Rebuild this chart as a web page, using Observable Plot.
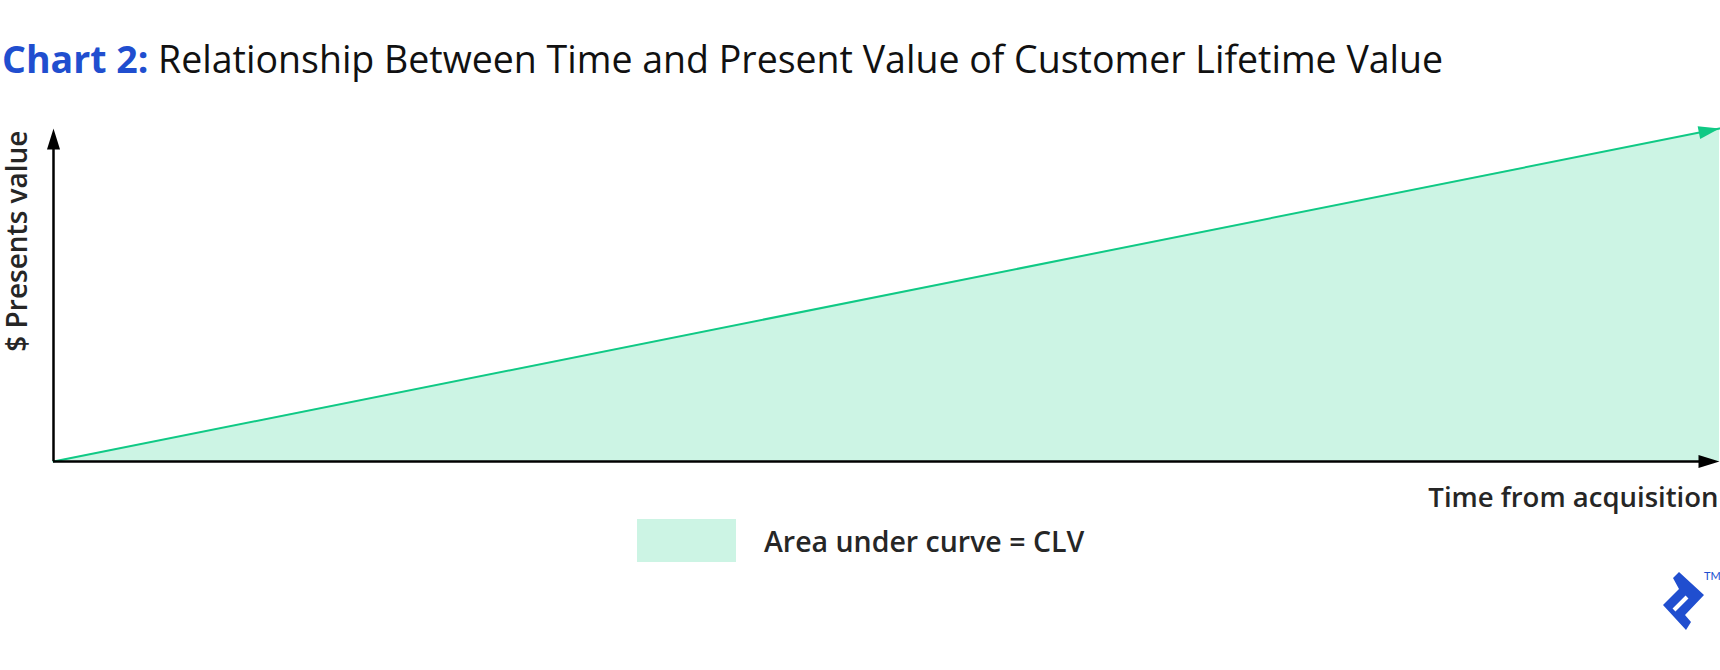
<!DOCTYPE html>
<html>
<head>
<meta charset="utf-8">
<script src="https://cdn.jsdelivr.net/npm/d3@7"></script>
<script src="https://cdn.jsdelivr.net/npm/@observablehq/plot@0.6"></script>
<style>
  html, body { margin: 0; padding: 0; background: #fff; }
  body { width: 1720px; height: 670px; position: relative; overflow: hidden; font-family: "Open Sans", Lato, sans-serif; }
  #title { position: absolute; left: 2px; top: 41px; font-size: 37.5px; line-height: 36px; color: #111; white-space: nowrap; }
  #title .lead { color: #204ecf; font-weight: 700; }
  #chart { position: absolute; left: 0; top: 100px; }
  #legend-swatch { position: absolute; left: 637px; top: 519px; width: 99px; height: 43px; }
  #legend-label { position: absolute; left: 764px; top: 525px; font-size: 28.5px; line-height: 32px; font-weight: 600; color: #262626; white-space: nowrap; }
  #logo { position: absolute; left: 1640px; top: 560px; }
</style>
</head>
<body>
<div id="title"></div>
<div id="chart"></div>
<div id="legend-swatch"></div>
<div id="legend-label"></div>
<svg id="logo" width="80" height="80" viewBox="0 0 80 80">
  <path d="M39,12 L64,35 L45,55 L51,62 L46,70 L23,45 L39,29 L33,18 Z" fill="#204ecf"/>
  <path d="M34,50 L47,37" stroke="#fff" stroke-width="4"/>
  <text x="64" y="20" font-size="11" fill="#204ecf" font-family="Lato, sans-serif">TM</text>
</svg>
<script>
// ---- data ----
const titleLead = "Chart 2:";
const titleText = "Relationship Between Time and Present Value of Customer Lifetime Value";
const xLabel = "Time from acquisition";
const yLabel = "$ Presents value";
const legendLabel = "Area under curve = CLV";
const time = [0, 1];
const presentValue = [0, 1];

// ---- styles ----
const lineColor = "#10c985";
const areaColor = "#ccf4e4";
const axisColor = "#000";
const textColor = "#262626";

document.getElementById("title").innerHTML =
  `<span class="lead">${titleLead}</span> ${titleText}`;
document.getElementById("legend-swatch").style.background = areaColor;
document.getElementById("legend-label").textContent = legendLabel;

const data = time.map((t, i) => ({t, v: presentValue[i]}));

const W = 1720, H = 410;
const mL = 53, mR = 1, mT = 28, mB = 49;
const plotW = W - mL - mR, plotH = H - mT - mB;
const slope = Math.atan2(plotH, plotW) * 180 / Math.PI;

// slender filled triangle, tip at origin, pointing up
const arrowHead = {
  draw(ctx) {
    const l = 21, w = 6.5;
    ctx.moveTo(0, 0);
    ctx.lineTo(-w, l);
    ctx.lineTo(w, l);
    ctx.closePath();
  }
};

const chart = Plot.plot({
  width: W,
  height: H,
  marginLeft: mL,
  marginRight: mR,
  marginTop: mT,
  marginBottom: mB,
  x: {domain: [0, 1], axis: null},
  y: {domain: [0, 1], axis: null},
  style: {fontFamily: "'Open Sans', Lato, sans-serif", overflow: "visible"},
  marks: [
    Plot.areaY(data, {x: "t", y: "v", fill: areaColor}),
    Plot.line(data, {x: "t", y: "v", stroke: lineColor, strokeWidth: 2}),
    Plot.ruleX([0], {y1: 0, y2: 0.97, stroke: axisColor, strokeWidth: 2.5}),
    Plot.ruleY([0], {x1: 0, x2: 0.99, stroke: axisColor, strokeWidth: 2.5}),
    Plot.dot([{t: 0, v: 1}], {x: "t", y: "v", symbol: arrowHead, fill: axisColor, stroke: "none", rotate: 0}),
    Plot.dot([{t: 1, v: 0}], {x: "t", y: "v", symbol: arrowHead, fill: axisColor, stroke: "none", rotate: 90}),
    Plot.dot(data.slice(-1), {x: "t", y: "v", symbol: arrowHead, fill: lineColor, stroke: "none", rotate: 90 - slope}),
    Plot.text([xLabel], {text: d => d, frameAnchor: "bottom-right", textAnchor: "end", lineAnchor: "middle",
      dx: -1, dy: 37, fontSize: 27.5, fontWeight: 600, fill: textColor}),
    Plot.text([yLabel], {text: d => d, frameAnchor: "top-left", rotate: -90, textAnchor: "end", lineAnchor: "middle",
      dx: -35, dy: 2, fontSize: 28, fontWeight: 600, fill: textColor})
  ]
});
document.getElementById("chart").appendChild(chart);
</script>
</body>
</html>
